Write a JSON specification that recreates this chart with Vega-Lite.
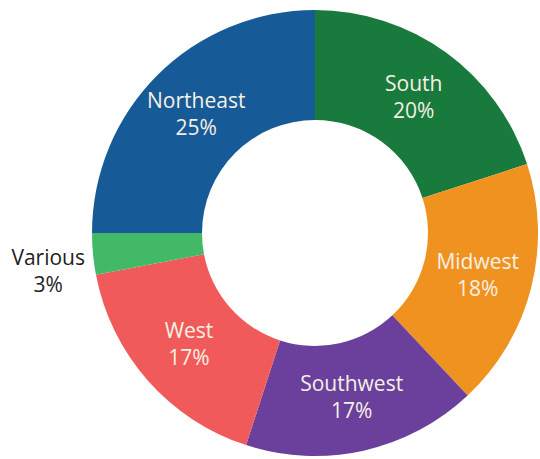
{
  "$schema": "https://vega.github.io/schema/vega-lite/v6.json",
  "width": 446,
  "height": 446,
  "autosize": {"type": "none"},
  "padding": {"left": 92, "top": 10, "right": 2, "bottom": 3},
  "background": "white",
  "config": {"view": {"stroke": null}},
  "data": {
    "values": [
      {"region": "South", "pct": 20, "rank": 1},
      {"region": "Midwest", "pct": 18, "rank": 2},
      {"region": "Southwest", "pct": 17, "rank": 3},
      {"region": "West", "pct": 17, "rank": 4},
      {"region": "Various", "pct": 3, "rank": 5},
      {"region": "Northeast", "pct": 25, "rank": 6}
    ]
  },
  "transform": [
    {"calculate": "datum.region === 'Various' ? '' : datum.region + '\\n' + datum.pct + '%'", "as": "inLabel"},
    {"calculate": "datum.region === 'Various' ? datum.region + '\\n' + datum.pct + '%' : ''", "as": "outLabel"}
  ],
  "encoding": {
    "theta": {"field": "pct", "type": "quantitative", "stack": true},
    "order": {"field": "rank", "type": "quantitative"}
  },
  "layer": [
    {
      "mark": {"type": "arc", "innerRadius": 113, "outerRadius": 223},
      "encoding": {
        "color": {
          "field": "region",
          "type": "nominal",
          "legend": null,
          "scale": {
            "domain": ["South", "Midwest", "Southwest", "West", "Various", "Northeast"],
            "range": ["#187a3c", "#f0921f", "#6a409c", "#f05a5a", "#42b966", "#175a98"]
          }
        }
      }
    },
    {
      "mark": {"type": "text", "radius": 168, "font": "Open Sans", "fontSize": 21, "lineBreak": "\n", "lineHeight": 27, "color": "#f6f1e4", "baseline": "middle", "dy": -12},
      "encoding": {"text": {"field": "inLabel"}}
    },
    {
      "mark": {"type": "text", "radius": 268, "font": "Open Sans", "fontSize": 21, "lineBreak": "\n", "lineHeight": 27, "color": "#1e1e1e", "baseline": "middle", "dy": 1},
      "encoding": {"text": {"field": "outLabel"}}
    }
  ]
}
